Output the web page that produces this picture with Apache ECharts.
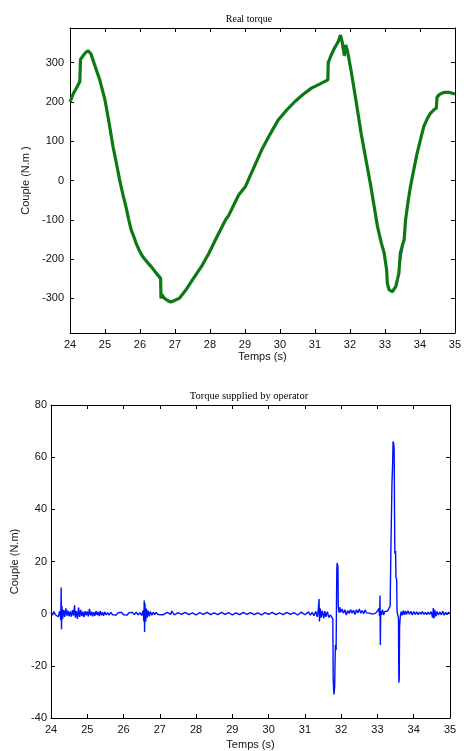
<!DOCTYPE html>
<html>
<head>
<meta charset="utf-8">
<script src="https://cdn.jsdelivr.net/npm/echarts@6/dist/echarts.min.js"></script>
<style>
  html, body { margin: 0; padding: 0; background: #fff; }
  #chart { width: 464px; height: 751px; }
</style>
</head>
<body>
<div id="chart"></div>
<script>
// time ticks shared by both plots
const timeTicks = [24, 25, 26, 27, 28, 29, 30, 31, 32, 33, 34, 35]
const realTicks = [-300, -200, -100, 0, 100, 200, 300]
const opTicks = [-40, -20, 0, 20, 40, 60, 80]

// Real torque (N.m) vs time (s)
const realTorque = [
  [24.00, 200], [24.10, 222], [24.20, 238], [24.28, 252], [24.30, 308],
  [24.38, 318], [24.45, 326], [24.52, 330], [24.60, 322], [24.70, 295],
  [24.85, 256], [25.00, 205], [25.12, 145], [25.23, 86], [25.33, 42],
  [25.42, 1], [25.51, -35], [25.60, -67], [25.68, -100], [25.75, -126],
  [25.82, -142], [25.89, -160], [25.98, -178], [26.08, -194], [26.20, -207],
  [26.32, -219], [26.45, -234], [26.59, -249], [26.60, -300], [26.62, -290],
  [26.70, -300], [26.80, -306], [26.88, -309], [26.97, -306], [27.12, -300],
  [27.30, -280], [27.50, -253], [27.75, -220], [27.97, -185], [28.20, -143],
  [28.44, -101], [28.54, -88], [28.82, -37], [29.01, -16], [29.25, 32],
  [29.48, 78], [29.72, 118], [29.95, 154], [30.20, 180], [30.43, 201],
  [30.66, 219], [30.90, 235], [31.15, 246], [31.37, 256], [31.38, 300],
  [31.46, 318], [31.56, 337], [31.66, 352], [31.73, 370], [31.78, 352],
  [31.84, 318], [31.88, 345], [31.93, 330], [32.03, 281], [32.18, 200],
  [32.32, 120], [32.46, 52], [32.60, -16], [32.70, -70], [32.79, -118],
  [32.90, -160], [32.98, -185], [33.05, -228], [33.07, -262], [33.12, -278],
  [33.21, -283], [33.31, -270], [33.40, -236], [33.44, -185], [33.50, -165],
  [33.55, -151], [33.59, -101], [33.66, -55], [33.73, -16], [33.82, 25],
  [33.92, 69], [34.02, 105], [34.11, 137], [34.20, 155], [34.30, 171],
  [34.40, 180], [34.47, 184], [34.49, 212], [34.56, 219], [34.68, 224],
  [34.85, 224], [35.00, 220]
]

// the blue reference peeking out under the green trace
const refTorque = [
  [31.78, 356], [31.87, 316], null,
  [33.37, -255], [33.45, -200], [33.52, -166]
]

// Torque supplied by operator (N.m) vs time (s)
const opTorque = [
  [24.00, 0.5], [24.04, -0.6], [24.08, 0.8], [24.12, -0.4], [24.16, 0.3],
  [24.20, -1.2], [24.24, 1.0], [24.27, -2.5], [24.28, 10], [24.29, -6],
  [24.30, 3], [24.32, -2], [24.35, 1.5], [24.38, -1.2], [24.41, 2.0],
  [24.44, -0.8], [24.47, 1.2], [24.50, -1.0], [24.53, 0.9], [24.56, -1.1],
  [24.59, 1.4], [24.62, -0.7], [24.65, 3.2], [24.67, -1.5], [24.70, 1.0],
  [24.73, -2.0], [24.76, 2.3], [24.79, -1.2], [24.82, 1.5], [24.85, -0.9],
  [24.88, 0.8], [24.91, -1.3], [24.94, 1.0], [24.97, -0.6], [25.00, 0.9],
  [25.03, -1.0], [25.06, 1.8], [25.09, -0.7], [25.12, 0.8], [25.15, -1.0],
  [25.18, 0.6], [25.21, -0.8], [25.24, 1.0], [25.27, -0.5], [25.30, 0.7],
  [25.33, -0.9], [25.36, 1.1], [25.39, -0.6], [25.42, 0.5], [25.45, -0.8],
  [25.48, 0.7], [25.52, -0.5], [25.56, 0.4], [25.60, -0.6], [25.65, 0.5],
  [25.70, -0.4], [25.75, 0.3], [25.80, -0.5], [25.85, 0.4], [25.90, -0.3],
  [25.95, 0.5], [26.00, -0.4], [26.05, 0.3], [26.10, -0.5], [26.15, 0.4],
  [26.20, -0.3], [26.25, 0.5], [26.30, -0.4], [26.35, 0.6], [26.40, -0.5],
  [26.45, 0.4], [26.50, -0.7], [26.54, 1.2], [26.56, -3], [26.57, 5],
  [26.58, -7], [26.59, 4], [26.61, -3], [26.63, 2], [26.65, -1.5],
  [26.68, 1.2], [26.71, -1.0], [26.74, 0.8], [26.78, -0.6], [26.82, 0.5],
  [26.86, -0.4], [26.90, 0.5], [26.95, -0.3], [27.00, 0.4], [27.10, -0.4],
  [27.20, 0.5], [27.30, -0.3], [27.33, 1.0], [27.40, -0.5], [27.50, 0.4],
  [27.60, -0.3], [27.70, 0.5], [27.80, -0.4], [27.90, 0.3], [28.00, -0.5],
  [28.10, 0.4], [28.20, -0.3], [28.30, 0.5], [28.40, -0.4], [28.50, 0.3],
  [28.60, -0.4], [28.70, 0.5], [28.80, -0.3], [28.90, 0.4], [29.00, -0.5],
  [29.10, 0.3], [29.20, -0.4], [29.30, 0.5], [29.40, -0.3], [29.50, 0.4],
  [29.60, -0.4], [29.70, 0.3], [29.80, -0.5], [29.90, 0.4], [30.00, -0.3],
  [30.10, 0.5], [30.20, -0.4], [30.30, 0.3], [30.40, -0.4], [30.50, 0.5],
  [30.60, -0.3], [30.70, 0.4], [30.80, -0.5], [30.90, 0.6], [31.00, -0.4],
  [31.10, 0.7], [31.15, -0.6], [31.20, 0.5], [31.25, -0.8], [31.30, 0.9],
  [31.34, -1.2], [31.37, 1.5], [31.39, 5.6], [31.40, -3], [31.42, 2],
  [31.45, -1.5], [31.48, 1.2], [31.52, -1.8], [31.55, 1.0], [31.58, -1.2],
  [31.62, 0.8], [31.66, -1.5], [31.70, -0.5], [31.74, -1.0], [31.77, -2],
  [31.78, -25], [31.80, -31], [31.82, -28], [31.84, -12], [31.86, -14],
  [31.87, 2], [31.88, 17], [31.89, 19.5], [31.91, 18], [31.92, 3],
  [31.94, 0.5], [31.96, 2.5], [31.98, 0.5], [32.02, 1.8], [32.06, 0.2],
  [32.10, 1.5], [32.14, -0.5], [32.18, 1.2], [32.22, 0.1], [32.26, 1.6],
  [32.30, 0.2], [32.34, 1.3], [32.38, -0.3], [32.42, 1.5], [32.46, 0.3],
  [32.50, 1.8], [32.54, 0.2], [32.58, 1.2], [32.62, 0.0], [32.66, 1.4],
  [32.70, 0.3], [32.74, 1.0], [32.78, 0.2], [32.82, 0.8], [32.86, -0.2],
  [32.90, -0.2], [32.95, 0.2], [33.00, 1.0], [33.04, 2.0], [33.06, -1],
  [33.07, 7], [33.08, -12], [33.09, 1], [33.11, -0.5], [33.14, 1.5],
  [33.17, -0.5], [33.20, 0.8], [33.24, 0.5], [33.28, 1.0], [33.32, 1.5],
  [33.35, 3], [33.37, 24], [33.39, 24], [33.40, 50], [33.42, 58],
  [33.43, 66], [33.45, 65], [33.46, 63], [33.47, 40], [33.48, 23],
  [33.50, 24], [33.51, 14], [33.53, 13], [33.54, 1], [33.56, -0.5],
  [33.58, -2], [33.59, -26.5], [33.60, -25], [33.61, -5], [33.63, -1],
  [33.65, 0.8], [33.68, -0.6], [33.71, 1.2], [33.74, -0.4], [33.77, 1.0],
  [33.80, -0.3], [33.84, 1.1], [33.88, -0.2], [33.92, 0.9], [33.96, -0.5],
  [34.00, 0.8], [34.04, -0.3], [34.08, 0.7], [34.12, -0.4], [34.16, 0.6],
  [34.20, -0.2], [34.24, 0.8], [34.28, -0.3], [34.32, 0.5], [34.36, -0.4],
  [34.40, 0.6], [34.44, -0.3], [34.48, 0.8], [34.52, -1.5], [34.54, 2.2],
  [34.56, -1.8], [34.58, 1.5], [34.61, -1.0], [34.64, 0.8], [34.68, -0.5],
  [34.72, 0.6], [34.76, -0.4], [34.80, 0.9], [34.84, -0.6], [34.88, 0.5],
  [34.92, -0.4], [34.96, 0.6], [35.00, -0.2]
]

let chart = echarts.init(document.getElementById("chart"))

const labelFont = { color: "#111", fontFamily: "Liberation Sans, Arial", fontSize: 11 }
const tickStyle = { inside: true, length: 4, lineStyle: { color: "#000", width: 1 } }
const lineStyle = { lineStyle: { color: "#000", width: 1 } }

function timeAxis(grid, pos, show, gap) {
  return {
    type: "value", gridIndex: grid, position: pos, min: 24, max: 35, interval: 1,
    name: show ? "Temps (s)" : "", nameLocation: "middle", nameGap: gap,
    nameTextStyle: labelFont,
    axisLine: Object.assign({ onZero: false }, lineStyle),
    axisTick: tickStyle,
    axisLabel: Object.assign({ show: show, margin: 6 }, labelFont),
    splitLine: { show: false }
  }
}

chart.setOption({
  backgroundColor: "#fff",
  animation: false,
  title: [
    { text: "Real torque", left: 244, top: 9, textAlign: "center",
      textStyle: { fontFamily: "Liberation Serif", fontSize: 10, fontWeight: "normal", color: "#000" } },
    { text: "Torque supplied by operator", left: 244, top: 386, textAlign: "center",
      textStyle: { fontFamily: "Liberation Serif", fontSize: 10.5, fontWeight: "normal", color: "#000" } }
  ],
  grid: [
    { left: 70, top: 28, right: 6, bottom: 418 },
    { left: 51, top: 405, right: 14, bottom: 33 }
  ],
  xAxis: [
    timeAxis(0, "bottom", true, 18),
    timeAxis(0, "top", false, 0),
    timeAxis(1, "bottom", true, 21),
    timeAxis(1, "top", false, 0)
  ],
  yAxis: [
    {
      type: "value", gridIndex: 0, position: "left", min: -388, max: 388,
      name: "Couple (N.m )", nameLocation: "middle", nameGap: 32, nameTextStyle: labelFont,
      axisLine: Object.assign({ onZero: false }, lineStyle),
      axisTick: Object.assign({ customValues: realTicks }, tickStyle),
      axisLabel: Object.assign({ customValues: realTicks, margin: 6 }, labelFont),
      splitLine: { show: false }
    },
    {
      type: "value", gridIndex: 0, position: "right", min: -388, max: 388,
      axisLine: Object.assign({ onZero: false }, lineStyle),
      axisTick: Object.assign({ customValues: realTicks }, tickStyle),
      axisLabel: { show: false },
      splitLine: { show: false }
    },
    {
      type: "value", gridIndex: 1, position: "left", min: -40, max: 80, interval: 20,
      name: "Couple (N.m)", nameLocation: "middle", nameGap: 27, nameTextStyle: labelFont,
      axisLine: Object.assign({ onZero: false }, lineStyle),
      axisTick: tickStyle,
      axisLabel: Object.assign({ margin: 4 }, labelFont),
      splitLine: { show: false }
    },
    {
      type: "value", gridIndex: 1, position: "right", min: -40, max: 80, interval: 20,
      axisLine: Object.assign({ onZero: false }, lineStyle),
      axisTick: tickStyle,
      axisLabel: { show: false },
      splitLine: { show: false }
    }
  ],
  series: [
    {
      type: "line", xAxisIndex: 0, yAxisIndex: 0, data: refTorque,
      showSymbol: false, connectNulls: false, z: 1,
      lineStyle: { color: "#1a1aff", width: 1.2 }
    },
    {
      type: "line", xAxisIndex: 0, yAxisIndex: 0, data: realTorque,
      showSymbol: false, z: 2,
      lineStyle: { color: "#0c7a12", width: 3.2 }
    },
    {
      type: "line", xAxisIndex: 2, yAxisIndex: 2, data: opTorque,
      showSymbol: false,
      lineStyle: { color: "#0010ff", width: 1.4 }
    }
  ]
})
</script>
</body>
</html>
